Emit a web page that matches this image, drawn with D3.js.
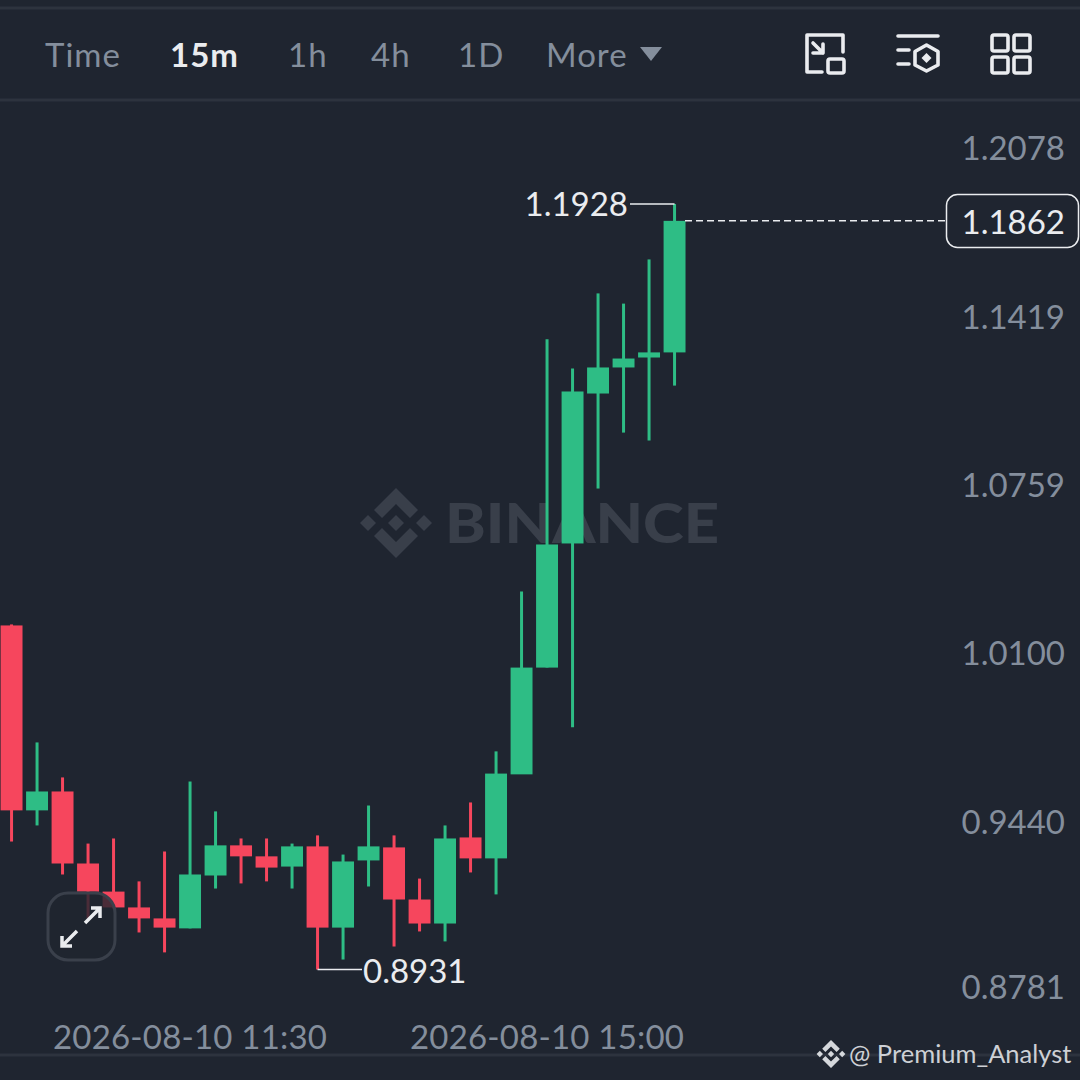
<!DOCTYPE html>
<html>
<head>
<meta charset="utf-8">
<script src="https://cdn.jsdelivr.net/npm/d3@7"></script>
<style>
  html, body { margin: 0; padding: 0; background: #1f2530; }
  svg { display: block; }
  text { font-family: "Lato", "Noto Sans", sans-serif; }
</style>
</head>
<body>
<div id="chart"></div>
<script>
// candle data, 15m bars
var times = ["09:45","10:00","10:15","10:30","10:45","11:00","11:15","11:30","11:45","12:00","12:15","12:30","12:45","13:00",
  "13:15","13:30","13:45","14:00","14:15","14:30","14:45","15:00","15:15","15:30","15:45","16:00","16:15"];
var opens = [1.0278,0.9554,0.9628,0.9346,0.9236,0.9174,0.9131,0.9092,0.9299,0.9417,0.9374,0.9334,0.9413,0.9095,
  0.9358,0.9409,0.9205,0.9111,0.9448,0.9366,0.9695,1.0113,1.0599,1.1186,1.1288,1.1327,1.1347];
var closes = [0.9554,0.9628,0.9346,0.9236,0.9174,0.9131,0.9095,0.9303,0.9417,0.9374,0.9330,0.9413,0.9095,0.9354,
  0.9413,0.9205,0.9111,0.9444,0.9366,0.9698,1.0113,1.0595,1.1194,1.1288,1.1323,1.1347,1.1862];
var highs = [1.0282,0.9820,0.9683,0.9424,0.9444,0.9276,0.9393,0.9667,0.9550,0.9444,0.9444,0.9424,0.9456,0.9381,
  0.9573,0.9456,0.9287,0.9495,0.9585,0.9785,1.0411,1.1398,1.1284,1.1578,1.1538,1.1711,1.1928];
var lows = [0.9432,0.9495,0.9303,0.9131,0.9170,0.9076,0.8998,0.9092,0.9248,0.9268,0.9276,0.9248,0.8931,0.8970,
  0.9256,0.9021,0.9080,0.9041,0.9311,0.9225,1.0039,1.0113,0.9879,1.0814,1.1033,1.1002,1.1217];

var priceTicks = [1.2078,1.1419,1.0759,1.0100,0.9440,0.8781];
var timeTicks = ["11:30","15:00"];
var timeDate = "2026-08-10";
var intervals = ["Time","15m","1h","4h","1D","More"];
var intervalX = [45,170,288,371,458,546];

var lastPrice = 1.1862, maxPrice = 1.1928, minPrice = 0.8931;

var BG = "#1f2530", GREEN = "#2ebd85", RED = "#f6465d", GRAY = "#848e9c", LINE = "#2d333e", WHITE = "#eaecef";

var svg = d3.select("#chart").append("svg")
  .attr("width", 1080)
  .attr("height", 1080);

svg.append("rect").attr("width", 1080).attr("height", 1080).attr("fill", BG);

// scales
var x = d3.scaleBand().domain(times).range([-1.2, 687.3]).paddingInner(0.14).paddingOuter(0.07);
var y = d3.scaleLinear().domain([minPrice, maxPrice]).range([969.5, 204]);
function cx(t) { return x(t) + x.bandwidth() / 2; }

// separators
svg.selectAll(".sep")
  .data([8, 100, 1055])
  .enter().append("line")
    .attr("class", "sep")
    .attr("x1", 0).attr("x2", 1080)
    .attr("y1", function(d) { return d; }).attr("y2", function(d) { return d; })
    .attr("stroke", LINE).attr("stroke-width", 3);

// binance logo, centred on cx,cy
function logo(parent, lx, ly, s, color) {
  var shapes = [
    [[0,-35],[22,-13],[14,-5],[0,-19],[-14,-5],[-22,-13]],
    [[0,35],[22,13],[14,5],[0,19],[-14,5],[-22,13]],
    [[0,-8],[8,0],[0,8],[-8,0]],
    [[-28,-8],[-20,0],[-28,8],[-36,0]],
    [[28,-8],[36,0],[28,8],[20,0]]
  ];
  parent.append("g")
    .attr("transform", "translate(" + lx + "," + ly + ") scale(" + s + ")")
    .selectAll("polygon")
    .data(shapes)
    .enter().append("polygon")
      .attr("points", function(d) { return d.join(" "); })
      .attr("fill", color);
}

// watermark
logo(svg, 396, 523, 1, "#393f4a");
svg.append("text")
  .attr("x", 445).attr("y", 543)
  .attr("font-family", "Montserrat, Lato, sans-serif")
  .attr("font-size", 56).attr("font-weight", 900)
  .attr("textLength", 274).attr("lengthAdjust", "spacingAndGlyphs")
  .attr("fill", "#393f4a")
  .text("BINANCE");

// header
svg.selectAll(".interval")
  .data(intervals)
  .enter().append("text")
    .attr("class", "interval")
    .attr("x", function(d, i) { return intervalX[i]; })
    .attr("y", 67)
    .attr("font-size", 33)
    .attr("letter-spacing", 1)
    .attr("font-weight", function(d) { return d == "15m" ? 700 : 400; })
    .attr("fill", function(d) { return d == "15m" ? WHITE : GRAY; })
    .text(function(d) { return d; });
svg.append("path").attr("d", "M640,47H662L651,61Z").attr("fill", GRAY);

// header icons
var icons = svg.append("g").attr("fill", "none").attr("stroke", WHITE).attr("stroke-width", 3.6)
  .attr("stroke-linecap", "round").attr("stroke-linejoin", "round");
icons.append("path").attr("d", "M843,52V35H807V72H822M813,43L823,53M813,53H823V44");
icons.append("rect").attr("x", 828).attr("y", 59).attr("width", 16).attr("height", 14).attr("rx", 2);
icons.append("path").attr("d", "M898,36H938M898,50H909M898,64H909M926.5,45L938,51.5V65L926.5,71L915,65V51.5Z");
icons.append("path").attr("d", "M926.5,53L931.5,58L926.5,63L921.5,58Z").attr("fill", WHITE).attr("stroke", "none");
[[992,35],[1014,35],[992,57],[1014,57]].forEach(function(p) {
  icons.append("rect").attr("x", p[0]).attr("y", p[1]).attr("width", 16).attr("height", 16).attr("rx", 2);
});

// candles
var candles = times.map(function(t, i) {
  return {t: t, o: opens[i], c: closes[i], h: highs[i], l: lows[i]};
});
function candleColor(d) { return d.c >= d.o ? GREEN : RED; }

var bars = svg.append("g").selectAll("g")
  .data(candles)
  .enter().append("g");
bars.append("line")
  .attr("x1", function(d) { return cx(d.t); })
  .attr("x2", function(d) { return cx(d.t); })
  .attr("y1", function(d) { return y(d.h); })
  .attr("y2", function(d) { return y(d.l); })
  .attr("stroke", candleColor)
  .attr("stroke-width", 3);
bars.append("rect")
  .attr("x", function(d) { return x(d.t); })
  .attr("width", x.bandwidth())
  .attr("y", function(d) { return y(Math.max(d.o, d.c)); })
  .attr("height", function(d) { return Math.abs(y(d.o) - y(d.c)); })
  .attr("fill", candleColor);

// high / low callouts
var last = times[times.length - 1], lowBar = times[12];
svg.append("path")
  .attr("d", "M630," + y(maxPrice) + "H" + cx(last))
  .attr("stroke", WHITE).attr("stroke-width", 1.5).attr("fill", "none");
svg.append("text")
  .attr("x", 628).attr("y", y(maxPrice)).attr("dy", "0.36em")
  .attr("text-anchor", "end").attr("font-size", 33).attr("fill", WHITE)
  .text(maxPrice.toFixed(4));
svg.append("path")
  .attr("d", "M" + cx(lowBar) + "," + y(minPrice) + "H362")
  .attr("stroke", WHITE).attr("stroke-width", 1.5).attr("fill", "none");
svg.append("text")
  .attr("x", 363).attr("y", y(minPrice) + 2).attr("dy", "0.36em")
  .attr("font-size", 33).attr("fill", WHITE)
  .text(minPrice.toFixed(4));

// price axis, labels sit above their gridline
var yAxis = d3.axisRight(y).tickValues(priceTicks).tickSize(0).tickFormat(d3.format(".4f"));
var yG = svg.append("g").attr("transform", "translate(1065,0)").call(yAxis);
yG.select(".domain").remove();
yG.selectAll("text")
  .attr("x", 0).attr("dy", "-0.18em")
  .attr("text-anchor", "end")
  .attr("font-family", "Lato, sans-serif")
  .attr("font-size", 33).attr("fill", GRAY);
// bottom label is pushed up a little by the chart edge
yG.selectAll("text").filter(function(d) { return d == 0.8781; }).attr("y", -3);

// time axis
var xAxis = d3.axisBottom(x).tickValues(timeTicks).tickSize(0)
  .tickFormat(function(d) { return timeDate + " " + d; });
var xG = svg.append("g").attr("transform", "translate(0,1019)").call(xAxis);
xG.select(".domain").remove();
xG.selectAll("text")
  .attr("y", 0).attr("dy", "0.9em")
  .attr("font-family", "Lato, sans-serif")
  .attr("font-size", 33).attr("letter-spacing", 0.2).attr("fill", GRAY);

// last price line and tag
svg.append("line")
  .attr("x1", 685).attr("x2", 946)
  .attr("y1", y(lastPrice)).attr("y2", y(lastPrice))
  .attr("stroke", WHITE).attr("stroke-width", 1.5).attr("stroke-dasharray", "7,4");
svg.append("rect")
  .attr("x", 946.5).attr("y", 194.5).attr("width", 132).attr("height", 53).attr("rx", 11)
  .attr("fill", BG).attr("stroke", WHITE).attr("stroke-width", 1.5);
svg.append("text")
  .attr("x", 1065).attr("y", y(lastPrice) + 1).attr("dy", "0.36em")
  .attr("text-anchor", "end").attr("font-size", 33).attr("fill", WHITE)
  .text(lastPrice.toFixed(4));

// expand button
svg.append("rect")
  .attr("x", 48).attr("y", 893).attr("width", 67).attr("height", 67).attr("rx", 20)
  .attr("fill", BG).attr("fill-opacity", 0.8)
  .attr("stroke", "#3a404b").attr("stroke-width", 3);
svg.append("path")
  .attr("d", "M85,923L100,908M91,908H100V918M77,931L62,946M62,936V946H72")
  .attr("fill", "none").attr("stroke", WHITE).attr("stroke-width", 3.5);

// footer tag
logo(svg, 831, 1054, 0.4, "#d5d8dc");
svg.append("text")
  .attr("x", 849).attr("y", 1063)
  .attr("font-family", "Noto Sans, sans-serif")
  .attr("font-size", 25.5).attr("fill", "#cdd0d5")
  .text("@ Premium_Analyst");
</script>
</body>
</html>
